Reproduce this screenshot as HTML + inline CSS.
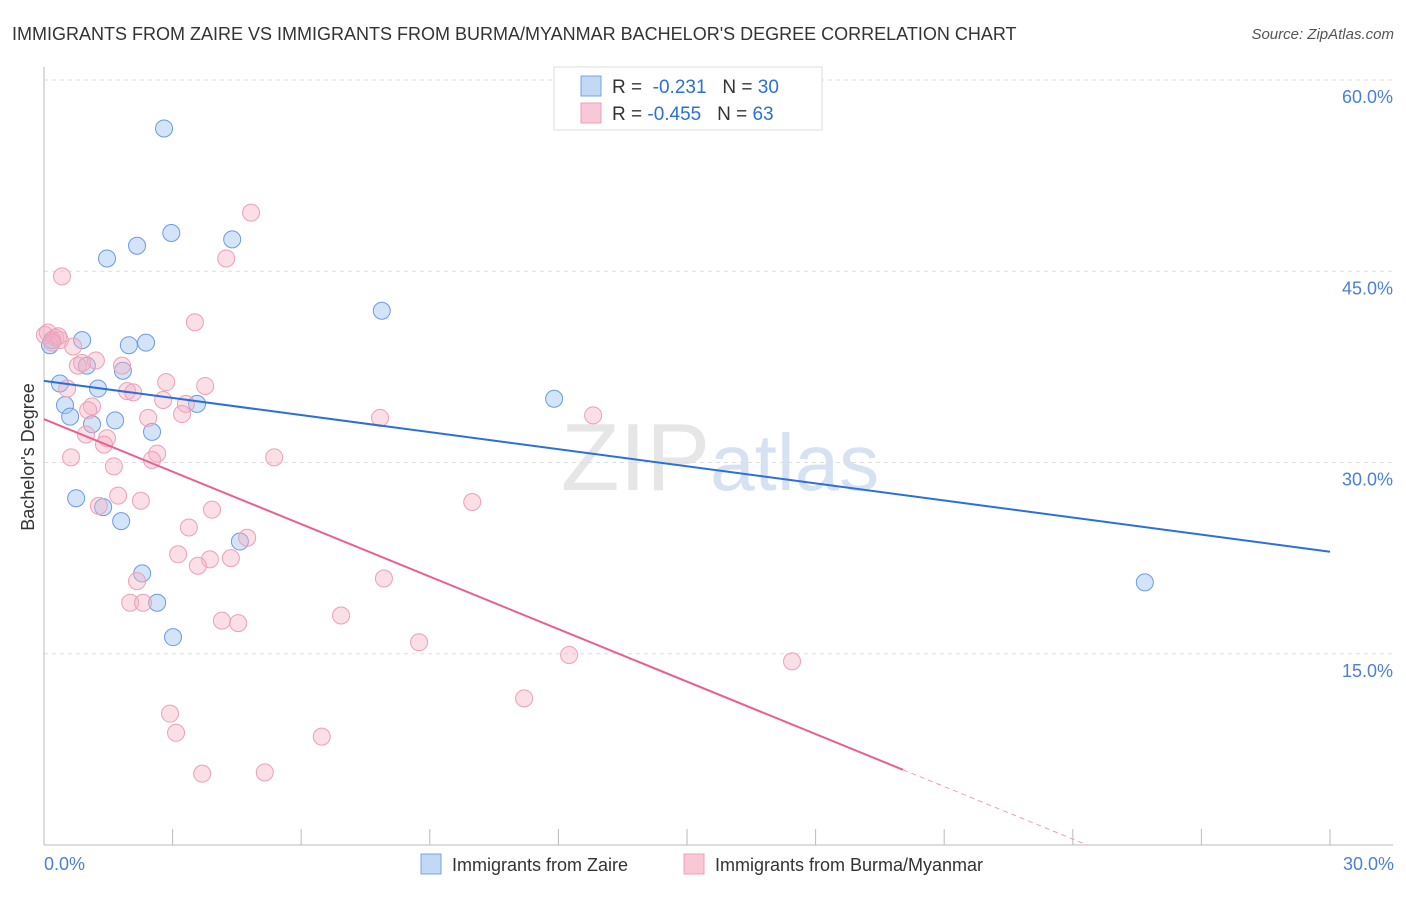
<!DOCTYPE html>
<html><head><meta charset="utf-8"><style>
body{margin:0;background:#fff;font-family:"Liberation Sans",sans-serif;}
svg text{font-family:"Liberation Sans",sans-serif;}
</style></head><body>
<svg id="c" width="1406" height="892">
<text x="12" y="40" font-size="18" fill="#333">IMMIGRANTS FROM ZAIRE VS IMMIGRANTS FROM BURMA/MYANMAR BACHELOR'S DEGREE CORRELATION CHART</text>
<text x="1394" y="39" font-size="15" fill="#555" font-style="italic" text-anchor="end">Source: ZipAtlas.com</text>
<text x="720" y="490" font-size="96" fill="#e6e6e6" text-anchor="middle" font-family="Liberation Serif">ZIP<tspan fill="#d6e2f2" font-family="Liberation Sans" font-size="80">atlas</tspan></text>
<g id="grid"></g><g id="axes"></g><g id="pts"></g><g id="lines"></g>
<text transform="translate(34,457) rotate(-90)" font-size="18" fill="#333" text-anchor="middle">Bachelor's Degree</text>
<text x="44" y="870" font-size="18" fill="#4a80d8">0.0%</text>
<text x="1394" y="870" font-size="18" fill="#4a80d8" text-anchor="end">30.0%</text>
<g>
<rect x="554" y="67" width="268" height="63" fill="#fff" stroke="#ddd"/>
<rect x="581" y="76" width="20" height="20" fill="#c2d8f5" stroke="#7aa5e0"/>
<rect x="581" y="103" width="20" height="20" fill="#f9c8d6" stroke="#eca0b8"/>
<text x="612" y="93" font-size="19" fill="#333">R = <tspan fill="#2a70d8">&#160;-0.231</tspan>&#160;&#160;&#160;N = <tspan fill="#2a70d8">30</tspan></text>
<text x="612" y="120" font-size="19" fill="#333">R = <tspan fill="#2a70d8">-0.455</tspan>&#160;&#160;&#160;N = <tspan fill="#2a70d8">63</tspan></text>
</g>
<g>
<rect x="421" y="854" width="20" height="20" fill="#c2d8f5" stroke="#7aa5e0"/>
<text x="452" y="871" font-size="18" fill="#333">Immigrants from Zaire</text>
<rect x="684" y="854" width="20" height="20" fill="#f9c8d6" stroke="#eca0b8"/>
<text x="715" y="871" font-size="18" fill="#333">Immigrants from Burma/Myanmar</text>
</g>
</svg>
<script>
const yTicks=[15,30,45,60];
const yTickLabels=["15.0%","30.0%","45.0%","60.0%"];
const xTicks=[0,3,6,9,12,15,18,21,24,27,30];
const zaireX=[2.8,2.97,4.39,2.17,1.47,7.88,0.89,2.38,1.98,0.19,0.14,1.0,1.84,0.37,1.26,0.49,3.57,0.61,1.66,1.12,2.52,11.9,0.75,1.38,1.8,4.57,2.29,2.64,3.01,25.68];
const zaireY=[56.2,48.0,47.5,47.0,46.0,41.9,39.6,39.4,39.2,39.6,39.2,37.6,37.2,36.2,35.8,34.5,34.6,33.6,33.3,33.0,32.4,35.0,27.2,26.5,25.4,23.8,21.3,19.0,16.3,20.6];
const burmaX=[4.83,0.42,4.25,3.52,0.02,0.26,0.09,0.37,0.68,1.21,0.79,0.89,1.82,0.54,2.85,3.76,1.94,2.08,2.78,3.31,1.12,1.03,3.22,2.43,7.84,12.81,0.98,1.47,1.4,2.64,2.52,0.63,5.37,1.63,1.73,2.26,1.28,3.92,9.99,3.38,4.74,3.13,4.36,3.87,3.59,7.93,2.17,2.01,2.31,6.93,4.15,4.53,8.75,12.25,17.45,11.2,2.94,3.08,6.48,3.69,5.15,0.33,0.19];
const burmaY=[49.6,44.6,46.0,41.0,40.0,39.8,40.2,39.6,39.1,38.0,37.6,37.8,37.6,35.8,36.3,36.0,35.6,35.5,34.9,34.6,34.4,34.1,33.8,33.5,33.5,33.7,32.2,31.9,31.4,30.7,30.2,30.4,30.4,29.7,27.4,27.0,26.6,26.3,26.9,24.9,24.1,22.8,22.5,22.4,21.9,20.9,20.7,19.0,19.0,18.0,17.6,17.4,15.9,14.9,14.4,11.5,10.3,8.8,8.5,5.6,5.7,39.9,39.4];
const zaireTrend=[36.4,23.0];
const burmaTrend=[33.4,5.9,20.04];
const X=v=>44+v/30*1286, Y=v=>845-v/60*765;
const NS="http://www.w3.org/2000/svg";
function mk(t,a,p){const e=document.createElementNS(NS,t);for(const k in a)e.setAttribute(k,a[k]);p.appendChild(e);return e;}
const grid=document.getElementById('grid'),axes=document.getElementById('axes'),pts=document.getElementById('pts'),lines=document.getElementById('lines');
yTicks.forEach((t,i)=>{
 const l=mk('line',{x1:44,x2:1393,y1:Y(t),y2:Y(t),stroke:'#ddd','stroke-dasharray':'4,4'},grid);
 
 
 const tx=mk('text',{x:1393,y:Y(t)+23,'font-size':18,fill:'#4a80d8','text-anchor':'end'},grid);
 tx.textContent=yTickLabels[i];
 
 
});
const ya=mk('line',{x1:44,x2:44,y1:67,y2:845,stroke:'#bbb'},axes);


const xa=mk('line',{x1:44,x2:1393,y1:845,y2:845,stroke:'#bbb'},axes);


xTicks.forEach(t=>{
 const l=mk('line',{x1:X(t),x2:X(t),y1:829,y2:845,stroke:'#bbb'},axes);
 
 
});
zaireX.forEach((x,i)=>{
 const c=mk('circle',{cx:X(x),cy:Y(zaireY[i]),r:8.5,fill:'rgba(160,195,240,0.45)',stroke:'#6b9be0','stroke-width':1},pts);
 
 
});
burmaX.forEach((x,i)=>{
 const c=mk('circle',{cx:X(x),cy:Y(burmaY[i]),r:8.5,fill:'rgba(245,175,195,0.4)',stroke:'#eca0b8','stroke-width':1},pts);
 
 
});
const bl=mk('line',{x1:X(0),y1:Y(zaireTrend[0]),x2:X(30),y2:Y(zaireTrend[1]),stroke:'#2a70d8','stroke-width':2},lines);


const slope=(burmaTrend[1]-burmaTrend[0])/burmaTrend[2];
const zx=-burmaTrend[0]/slope;
const pl=mk('line',{x1:X(0),y1:Y(burmaTrend[0]),x2:X(burmaTrend[2]),y2:Y(burmaTrend[1]),stroke:'#e8608f','stroke-width':2},lines);


const pd=mk('line',{x1:X(burmaTrend[2]),y1:Y(burmaTrend[1]),x2:X(zx),y2:Y(0),stroke:'#e8a0b8','stroke-width':1,'stroke-dasharray':'5,4'},lines);


</script>
</body></html>
